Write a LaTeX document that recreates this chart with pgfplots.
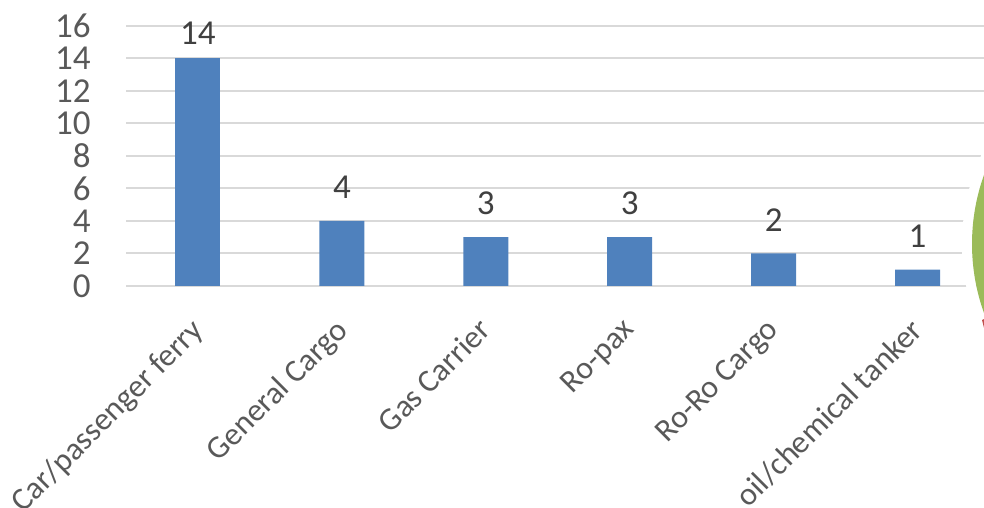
\documentclass[border=0pt]{standalone}
\usepackage{pgfplots}
\pgfplotsset{compat=1.18}
\usepackage{fontspec}
\setmainfont{Carlito}

\definecolor{barblue}{HTML}{4F81BD}
\definecolor{gridgray}{HTML}{D9D9D9}
\definecolor{tickgray}{HTML}{595959}
\definecolor{labelgray}{HTML}{404040}
\definecolor{olive}{HTML}{9BBB59}
\definecolor{brickred}{HTML}{C0504D}

\begin{document}
\begin{tikzpicture}
\useasboundingbox (0,0) rectangle (492pt,254pt);
\clip (0,0) rectangle (492pt,254pt);
\begin{axis}[
    at={(63pt,111pt)}, anchor=south west,
    scale only axis,
    width=431.75pt, height=130pt,
    xmin=-0.5, xmax=5.5,
    ymin=0, ymax=16,
    ytick={0,2,...,16},
    xtick={0,...,5},
    xticklabels={Car/passenger ferry, General Cargo, Gas Carrier, Ro-pax, Ro-Ro Cargo, oil/chemical tanker},
    % shifts are in the rotated frame
    xticklabel style={rotate=45, anchor=north east, inner sep=0pt,
        xshift=-13.6pt, yshift=-7.6pt,
        font=\fontsize{16}{19}\selectfont, text=tickgray},
    yticklabel style={anchor=east, inner sep=0pt, xshift=-17.5pt,
        font=\fontsize{17.5}{20}\selectfont, text=tickgray},
    /pgf/number format/assume math mode=true,
    ymajorgrids,
    grid style={draw=gridgray, line width=1pt},
    axis line style={draw=none},
    major tick length=0pt,
    nodes near coords,
    nodes near coords style={font=\fontsize{17.5}{20}\selectfont, text=labelgray, inner sep=0pt, anchor=south},
]
% vessel types
\addplot[ybar, bar width=22.5pt, bar shift=0pt, fill=barblue, draw=none,
    every node near coord/.append style={yshift=11pt}]
    coordinates {(1,4) (2,3) (3,3) (4,2) (5,1)};
% tallest bar, label sits closer
\addplot[ybar, bar width=22.5pt, bar shift=0pt, fill=barblue, draw=none,
    every node near coord/.append style={yshift=7pt}]
    coordinates {(0,14)};
\end{axis}
% pieces of the neighbouring shapes at the right edge
\draw[white, line width=5pt] (588pt,132pt) circle (104.5pt);
\fill[olive] (588pt,132pt) circle (102pt);
\fill[brickred] (491pt,94pt) -- (492pt,94.5pt) -- (492pt,90pt) -- cycle;
\end{tikzpicture}
\end{document}
